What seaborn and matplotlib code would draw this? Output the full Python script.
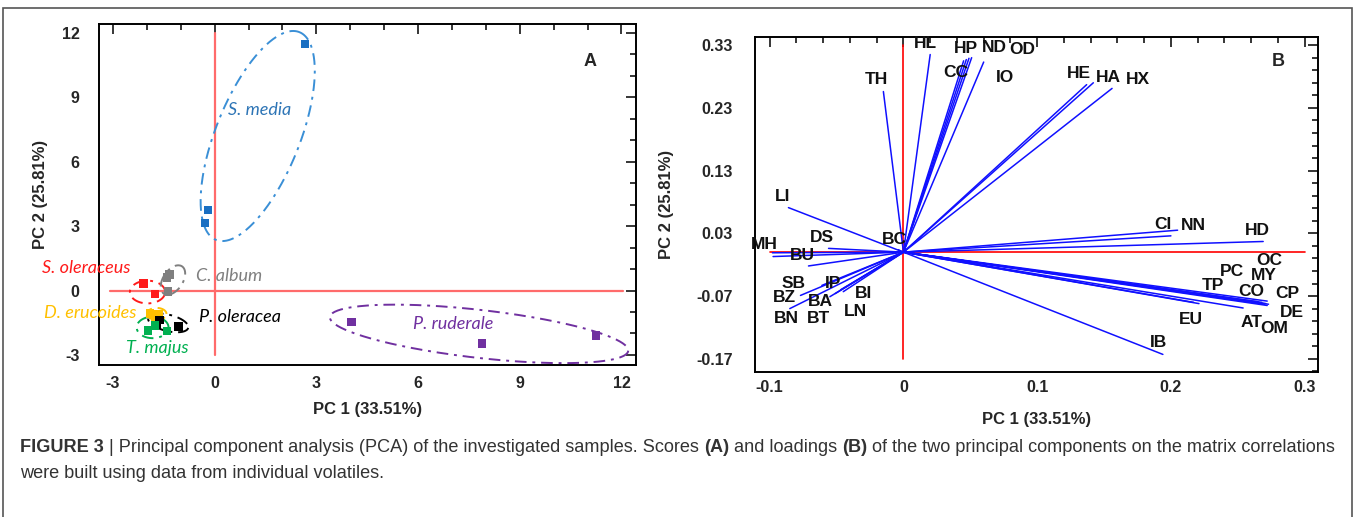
import matplotlib
matplotlib.use('Agg')
import matplotlib.pyplot as plt
import seaborn as sns
import numpy as np
import pandas as pd
from matplotlib.ticker import MultipleLocator, FixedLocator
from matplotlib.patches import Rectangle

# ---- Panel A: PCA scores ----
species = ['S. media'] * 3 + ['P. ruderale'] * 3 + ['S. oleraceus'] * 2 + ['C. album'] * 3 \
    + ['D. erucoides'] * 3 + ['P. oleracea'] * 3 + ['T. majus'] * 3
pc1_scores = [2.67, -0.19, -0.28,
              4.03, 7.89, 11.25,
              -2.10, -1.76,
              -1.41, -1.33, -1.37,
              -1.91, -1.76, -1.66,
              -1.63, -1.71, -1.07,
              -1.96, -1.41, -1.76]
pc2_scores = [11.49, 3.75, 3.14,
              -1.46, -2.48, -2.10,
              0.34, -0.17,
              0.62, 0.74, -0.05,
              -1.07, -1.20, -1.12,
              -1.37, -1.60, -1.68,
              -1.87, -1.88, -1.62]

group_names = ['S. media', 'P. ruderale', 'S. oleraceus', 'C. album',
               'D. erucoides', 'P. oleracea', 'T. majus']
group_colors = ['#1a6fc2', '#7030a0', '#ff1a1a', '#7f7f7f',
                '#ffc000', '#000000', '#00b050']
label_colors = ['#2e75b6', '#7030a0', '#ff1a1a', '#7f7f7f',
                '#ffc000', '#000000', '#00b050']
# ellipse: centre, major half-axis vector, minor half-axis vector
ellipses = {
    'S. media': ((1.27, 7.2), (1.23, 4.84), (1.15, -0.73)),
    'P. ruderale': ((7.80, -2.02), (4.40, -0.79), (-0.08, -1.11)),
    'S. oleraceus': ((-1.98, -0.07), (0.52, 0.0), (0.0, 0.53)),
    'C. album': ((-1.23, 0.49), (0.20, 0.68), (0.30, -0.09)),
    'D. erucoides': ((-1.71, -1.09), (0.29, 0.0), (0.0, 0.28)),
    'P. oleracea': ((-1.37, -1.51), (0.59, -0.23), (-0.06, -0.37)),
    'T. majus': ((-1.83, -1.72), (0.47, 0.0), (0.0, 0.50)),
}
group_label_pos = {
    'S. media': (0.40, 8.4), 'P. ruderale': (5.86, -1.56),
    'S. oleraceus': (-5.09, 1.05), 'C. album': (-0.55, 0.68),
    'D. erucoides': (-5.03, -1.04), 'P. oleracea': (-0.46, -1.24),
    'T. majus': (-2.61, -2.68),
}

# ---- Panel B: loadings ----
volatiles = ['TH', 'HL', 'CC', 'HP', 'ND', 'OD', 'IO', 'HE', 'HA', 'HX',
             'LI', 'DS', 'MH', 'BU', 'SB', 'IP', 'BZ', 'BN', 'BA', 'BT',
             'BI', 'LN', 'BC', 'CI', 'NN', 'HD', 'OC', 'MY', 'CP', 'DE',
             'CO', 'PC', 'AT', 'OM', 'TP', 'EU', 'IB']
pc1_load = [-0.015, 0.020, 0.045, 0.047, 0.049, 0.051, 0.060, 0.137, 0.142, 0.156,
            -0.086, -0.056, -0.098, -0.0975, -0.071, -0.061, -0.077, -0.085, -0.055, -0.051,
            -0.047, -0.045, -0.004, 0.205, 0.200, 0.269, 0.272, 0.271, 0.272, 0.270,
            0.268, 0.265, 0.254, 0.273, 0.221, 0.217, 0.194]
pc2_load = [0.256, 0.315, 0.305, 0.307, 0.309, 0.310, 0.303, 0.267, 0.270, 0.261,
            0.071, 0.006, -0.001, -0.007, -0.022, -0.053, -0.069, -0.090, -0.071, -0.066,
            -0.060, -0.063, 0.004, 0.035, 0.026, 0.017, -0.078, -0.082, -0.085, -0.083,
            -0.080, -0.079, -0.089, -0.083, -0.082, -0.080, -0.163]
label_x = [-0.0204, 0.0162, 0.0394, 0.0469, 0.0678, 0.0888, 0.0760, 0.1314, 0.1531, 0.1755,
           -0.0907, -0.0608, -0.1042, -0.0758, -0.0825, -0.0526, -0.0892, -0.0877, -0.0623, -0.0638,
           -0.0302, -0.0362, -0.0070, 0.1942, 0.2167, 0.2646, 0.2736, 0.2691, 0.2870, 0.2907,
           0.2601, 0.2460, 0.2601, 0.2773, 0.2317, 0.2151, 0.1905]
label_y = [0.2759, 0.3325, 0.2871, 0.3246, 0.3262, 0.3230, 0.2791, 0.2847, 0.2791, 0.2759,
           0.0885, 0.0231, 0.0120, -0.0056, -0.0502, -0.0502, -0.0726, -0.1061, -0.0789, -0.1061,
           -0.0662, -0.0949, 0.0199, 0.0439, 0.0423, 0.0343, -0.0136, -0.0375, -0.0662, -0.0965,
           -0.0630, -0.0311, -0.1124, -0.1220, -0.0534, -0.1077, -0.1443]

sns.set_style('white')
plt.rcParams['font.family'] = ['Liberation Sans', 'DejaVu Sans']
plt.rcParams['axes.unicode_minus'] = False

fig = plt.figure(figsize=(13.55, 5.17), dpi=100)
axA = fig.add_axes([0.0731, 0.294, 0.3963, 0.6596])
axB = fig.add_axes([0.5572, 0.2805, 0.4155, 0.648])

# ---------------- Panel A ----------------
scores = pd.DataFrame({'PC1': pc1_scores, 'PC2': pc2_scores, 'species': species})
axA.plot([0, 0], [-3, 12], color='#ff6b6b', lw=1.6, zorder=1)
axA.plot([-3.1, 12.05], [0, 0], color='#ff6b6b', lw=1.6, zorder=1)
sns.scatterplot(data=scores, x='PC1', y='PC2', hue='species', hue_order=group_names,
                palette=group_colors, marker='s', s=38, edgecolor='none',
                legend=False, ax=axA, zorder=3)
t = np.linspace(0, 2 * np.pi, 300)
for name, col, lcol in zip(group_names, group_colors, label_colors):
    (cx, cy), (ax_, ay_), (bx, by) = ellipses[name]
    ex = cx + ax_ * np.cos(t) + bx * np.sin(t)
    ey = cy + ay_ * np.cos(t) + by * np.sin(t)
    ecol = '#3a8fd6' if name == 'S. media' else col
    axA.plot(ex, ey, color=ecol, lw=1.4, ls=(0, (6, 3, 1.5, 3)), zorder=2)
    lx, ly = group_label_pos[name]
    axA.text(lx, ly, name, color=lcol, style='italic', fontsize=13,
             family=['Lato', 'DejaVu Sans'], va='center', ha='left', clip_on=False)
axA.text(11.08, 10.65, 'A', fontsize=13, fontweight='bold', ha='center', va='center')

axA.set_xlim(-3.41, 12.43)
axA.set_ylim(-3.47, 12.42)
axA.set_xticks([-3, 0, 3, 6, 9, 12])
axA.set_yticks([-3, 0, 3, 6, 9, 12])
axA.xaxis.set_minor_locator(MultipleLocator(1))
axA.yaxis.set_minor_locator(MultipleLocator(1))
axA.set_xlabel('PC 1 (33.51%)', fontsize=12, fontweight='bold', labelpad=8)
axA.set_ylabel('PC 2 (25.81%)', fontsize=12, fontweight='bold', labelpad=10)

# ---------------- Panel B ----------------
axB.plot([-0.1, 0.3], [0, 0], color='#ff0000', lw=1.2, zorder=1)
axB.plot([0, 0], [-0.17, 0.33], color='#ff0000', lw=1.2, zorder=1)
for x1, y1 in zip(pc1_load, pc2_load):
    axB.plot([0, x1], [0, y1], color='#1010ff', lw=1.1, zorder=2)
for name, lx, ly in zip(volatiles, label_x, label_y):
    axB.text(lx, ly, name, fontsize=12.5, fontweight='bold', ha='center', va='center',
             color='#111111', zorder=4)
axB.text(0.280, 0.304, 'B', fontsize=13, fontweight='bold', ha='center', va='center')

axB.set_xlim(-0.111, 0.310)
axB.set_ylim(-0.191, 0.343)
axB.set_xticks([-0.1, 0, 0.1, 0.2, 0.3])
axB.set_xticklabels(['-0.1', '0', '0.1', '0.2', '0.3'])
axB.set_yticks([-0.17, -0.07, 0.03, 0.13, 0.23, 0.33])
axB.set_yticklabels(['-0.17', '-0.07', '0.03', '0.13', '0.23', '0.33'])
axB.xaxis.set_minor_locator(MultipleLocator(0.02))
axB.yaxis.set_minor_locator(FixedLocator(np.arange(-0.19, 0.35, 0.02)))
axB.set_xlabel('PC 1 (33.51%)', fontsize=12, fontweight='bold', labelpad=12)
axB.set_ylabel('PC 2 (25.81%)', fontsize=12, fontweight='bold', labelpad=16)

for ax in (axA, axB):
    ax.tick_params(which='both', direction='in', top=True, right=True, width=1.3)
    ax.tick_params(which='major', length=7, labelsize=11.5, pad=8)
    ax.tick_params(which='minor', length=4)
    for lab in ax.get_xticklabels() + ax.get_yticklabels():
        lab.set_fontweight('bold')
    for sp in ax.spines.values():
        sp.set_linewidth(1.4)
        sp.set_color('black')
axA.tick_params(axis='y', pad=14)
axB.tick_params(axis='y', pad=16)
axB.tick_params(axis='x', pad=6)

# outer frame
fig.patches.append(Rectangle((3 / 1355, -0.05), 1349 / 1355, 1.05 - 8 / 517,
                             transform=fig.transFigure, fill=False,
                             edgecolor='#555555', lw=1.2))

# caption with bold parts
fig.canvas.draw()
renderer = fig.canvas.get_renderer()
W = fig.get_figwidth() * fig.dpi
cap_color = '#333333'
cap_size = 13.1
line1 = [('FIGURE 3', 'bold'), (' | Principal component analysis (PCA) of the investigated samples. Scores ', 'normal'),
         ('(A)', 'bold'), (' and loadings ', 'normal'), ('(B)', 'bold'),
         (' of the two principal components on the matrix correlations', 'normal')]
x = 20 / W
y1 = 1 - 447 / 517
for seg, wt in line1:
    tx = fig.text(x, y1, seg, fontsize=cap_size, fontweight=wt, color=cap_color,
                  va='center', ha='left')
    x += tx.get_window_extent(renderer).width / W
fig.text(20 / W, 1 - 473 / 517, 'were built using data from individual volatiles.',
         fontsize=cap_size, color=cap_color, va='center', ha='left')

fig.savefig('out.png', dpi=100)
